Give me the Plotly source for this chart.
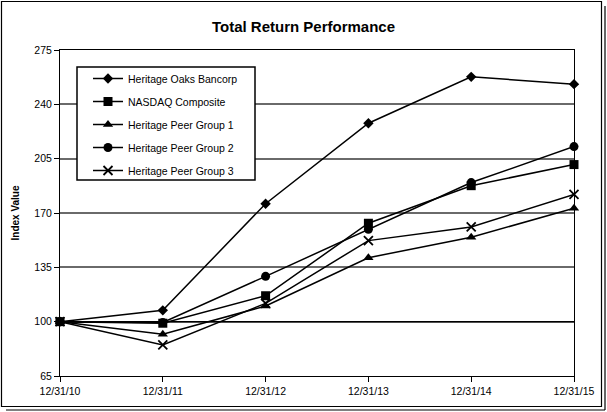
import plotly.graph_objects as go

# ------------------------------------------------------------
# Data (index values)
# ------------------------------------------------------------
dates = ["12/31/10", "12/31/11", "12/31/12", "12/31/13", "12/31/14", "12/31/15"]

heritage_oaks = [100, 107.3, 176.0, 227.8, 257.7, 253.0]
nasdaq = [100, 99.0, 116.7, 163.4, 187.6, 201.2]
peer_group_1 = [100, 91.9, 110.1, 141.2, 154.4, 173.0]
peer_group_2 = [100, 99.5, 129.2, 159.5, 189.6, 212.8]
peer_group_3 = [100, 85.0, 111.8, 152.2, 161.0, 182.0]

series = [
    ("Heritage Oaks Bancorp", heritage_oaks, "diamond", 8),
    ("NASDAQ Composite", nasdaq, "square", 9),
    ("Heritage Peer Group 1", peer_group_1, "triangle-up", 9),
    ("Heritage Peer Group 2", peer_group_2, "circle", 9),
    ("Heritage Peer Group 3", peer_group_3, "x-thin", 9),
]

y_ticks = [65, 100, 135, 170, 205, 240, 275]
base_value = 100

FONT = "Liberation Sans"

# plot area in pixels (used to place the frame / legend box)
L, R, T, B = 60, 574, 50, 376
W, H = 607, 412


def px(x):
    return (x - L) / (R - L)


def py(y):
    return (B - y) / (B - T)


fig = go.Figure()

x_idx = list(range(len(dates)))
for i, (name, vals, sym, size) in enumerate(series):
    fig.add_trace(go.Scatter(
        x=x_idx,
        y=vals,
        name=name,
        mode="lines+markers",
        line=dict(color="black", width=1.5),
        marker=dict(symbol=sym, size=size, color="black",
                    line=dict(color="black", width=1.8 if sym == "x-thin" else 0)),
        cliponaxis=False,
        legendgroup=str(i),
    ))

# black base line at 100 (other gridlines are grey); everything it
# crosses is black, so drawing it on top is harmless
fig.add_shape(type="line", xref="paper", yref="y",
              x0=0, x1=1, y0=base_value, y1=base_value,
              line=dict(color="black", width=1.4), layer="above")

# outer frame with a drop shadow
fig.add_shape(type="rect", xref="paper", yref="paper",
              x0=px(1.5), x1=px(601.5), y0=py(1.5), y1=py(406.5),
              line=dict(color="black", width=1.2), layer="below")
fig.add_shape(type="line", xref="paper", yref="paper",
              x0=px(6), x1=px(605), y0=py(410), y1=py(410),
              line=dict(color="black", width=1.2))
fig.add_shape(type="line", xref="paper", yref="paper",
              x0=px(605), x1=px(605), y0=py(6), y1=py(410),
              line=dict(color="black", width=1.2))

# legend box
fig.add_shape(type="rect", xref="paper", yref="paper",
              x0=px(77), x1=px(255), y0=py(67), y1=py(180),
              line=dict(color="black", width=1.5), fillcolor="white",
              layer="above")

fig.update_layout(
    width=W,
    height=H,
    margin=dict(l=L, r=W - R, t=T, b=H - B),
    paper_bgcolor="white",
    plot_bgcolor="white",
    font=dict(family=FONT, size=10.5, color="black"),
    title=dict(text="<b>Total Return Performance</b>", x=0.5, xref="container",
               y=1 - 27 / H, yanchor="middle",
               font=dict(family=FONT, size=15, color="black")),
    showlegend=True,
    legend=dict(
        x=px(88), y=py(64), xanchor="left", yanchor="top",
        borderwidth=0, bgcolor="rgba(0,0,0,0)",
        font=dict(family=FONT, size=10.5),
        tracegroupgap=4,
        itemwidth=30,
    ),
    xaxis=dict(
        range=[0, 5],
        tickvals=x_idx,
        ticktext=dates,
        showgrid=False,
        zeroline=False,
        showline=True, linecolor="black", linewidth=1, mirror=True,
        ticks="outside", ticklen=5, tickcolor="black",
        tickfont=dict(family=FONT, size=10.5),
    ),
    yaxis=dict(
        range=[65, 275],
        tickvals=y_ticks,
        showgrid=True, gridcolor="#6a6a6a", gridwidth=1.8,
        zeroline=False,
        showline=True, linecolor="black", linewidth=1, mirror=True,
        ticks="outside", ticklen=5, tickcolor="black",
        tickfont=dict(family=FONT, size=10.5),
        title=dict(text="<b>Index Value</b>", standoff=12,
                   font=dict(family=FONT, size=10)),
    ),
)

# drop the browser's default 8px body margin so the page lines up
fig.write_html("out.html", config={"displayModeBar": False},
               post_script="document.body.style.margin='0px';")
